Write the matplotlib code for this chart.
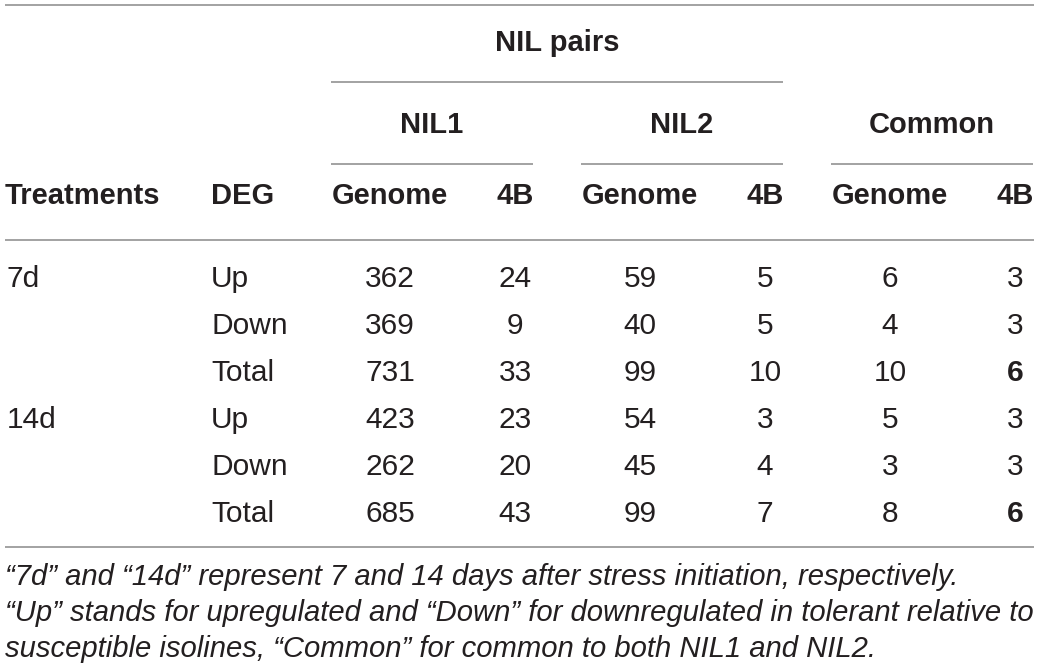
import matplotlib
matplotlib.use("Agg")
import matplotlib.pyplot as plt

plt.rcParams['font.family'] = ['Liberation Sans', 'DejaVu Sans']

# table data
treatments = ['7d', '', '', '14d', '', '']
deg = ['Up', 'Down', 'Total', 'Up', 'Down', 'Total']
nil1_genome = [362, 369, 731, 423, 262, 685]
nil1_4b = [24, 9, 33, 23, 20, 43]
nil2_genome = [59, 40, 99, 54, 45, 99]
nil2_4b = [5, 5, 10, 3, 4, 7]
common_genome = [6, 4, 10, 5, 3, 8]
common_4b = [3, 3, 6, 3, 3, 6]
bold_rows_common_4b = ['Total']

groups = ['NIL1', 'NIL2', 'Common']
sub_cols = ['Genome', '4B']
footnotes = [
    '\u201c7d\u201d and \u201c14d\u201d represent 7 and 14 days after stress initiation, respectively.',
    '\u201cUp\u201d stands for upregulated and \u201cDown\u201d for downregulated in tolerant relative to',
    'susceptible isolines, \u201cCommon\u201d for common to both NIL1 and NIL2.',
]

W, H = 1039, 671
fig = plt.figure(figsize=(W / 100, H / 100), dpi=100)
ax = fig.add_axes([0, 0, 1, 1])
ax.set_xlim(0, W)
ax.set_ylim(H, 0)
ax.axis('off')

txt = '#231f20'
rule = '#9b9b9b'
fs_head = 21
fs_body = 21.5

# layout (pixels)
left = 5
right = 1034
deg_x = 211
grp_left = [331, 581, 831]
grp_w = 202
gen_cx = [390, 640, 890]
b4_cx = [515, 765, 1015]

def hline(y, x0, x1):
    ax.plot([x0, x1], [y, y], color=rule, lw=1.3, solid_capstyle='butt')

hline(5, left, right)
hline(82, grp_left[0], grp_left[1] + grp_w)
for gx in grp_left:
    hline(163.5, gx, gx + grp_w)
hline(240, left, right)
hline(547, left, right)

# headers
ax.text((grp_left[0] + grp_left[1] + grp_w) / 2, 51, 'NIL pairs', ha='center', va='baseline',
        fontsize=fs_head, fontweight='bold', color=txt)
for g, gx in zip(groups, grp_left):
    ax.text(gx + grp_w / 2, 133, g, ha='center', va='baseline',
            fontsize=fs_head, fontweight='bold', color=txt)
ax.text(left, 204, 'Treatments', ha='left', va='baseline', fontsize=fs_head, fontweight='bold', color=txt)
ax.text(deg_x, 204, 'DEG', ha='left', va='baseline', fontsize=fs_head, fontweight='bold', color=txt)
for gc, bc in zip(gen_cx, b4_cx):
    ax.text(gc, 204, sub_cols[0], ha='center', va='baseline', fontsize=fs_head, fontweight='bold', color=txt)
    ax.text(bc, 204, sub_cols[1], ha='center', va='baseline', fontsize=fs_head, fontweight='bold', color=txt)

# body
cols = [nil1_genome, nil1_4b, nil2_genome, nil2_4b, common_genome, common_4b]
col_x = [gen_cx[0], b4_cx[0], gen_cx[1], b4_cx[1], gen_cx[2], b4_cx[2]]
y0, dy = 287, 47
for i in range(len(deg)):
    y = y0 + i * dy
    ax.text(left + 2, y, treatments[i], ha='left', va='baseline', fontsize=fs_body, color=txt)
    ax.text(deg_x, y, deg[i], ha='left', va='baseline', fontsize=fs_body, color=txt)
    for j, (vals, cx) in enumerate(zip(cols, col_x)):
        w = 'bold' if (j == 5 and deg[i] in bold_rows_common_4b) else 'normal'
        ax.text(cx, y, str(vals[i]), ha='center', va='baseline', fontsize=fs_body,
                fontweight=w, color=txt)

# footnotes: size chosen so the longest line fills the table width
r = fig.canvas.get_renderer()
probe = ax.text(0, 0, footnotes[1], fontsize=18, style='italic')
pw = probe.get_window_extent(r).width
probe.remove()
fs_note = 18 * (right - left - 1) / pw
for k, line in enumerate(footnotes):
    ax.text(left, 585 + k * 36, line, ha='left', va='baseline', fontsize=fs_note,
            style='italic', color=txt)

fig.savefig('out.png', dpi=100)
